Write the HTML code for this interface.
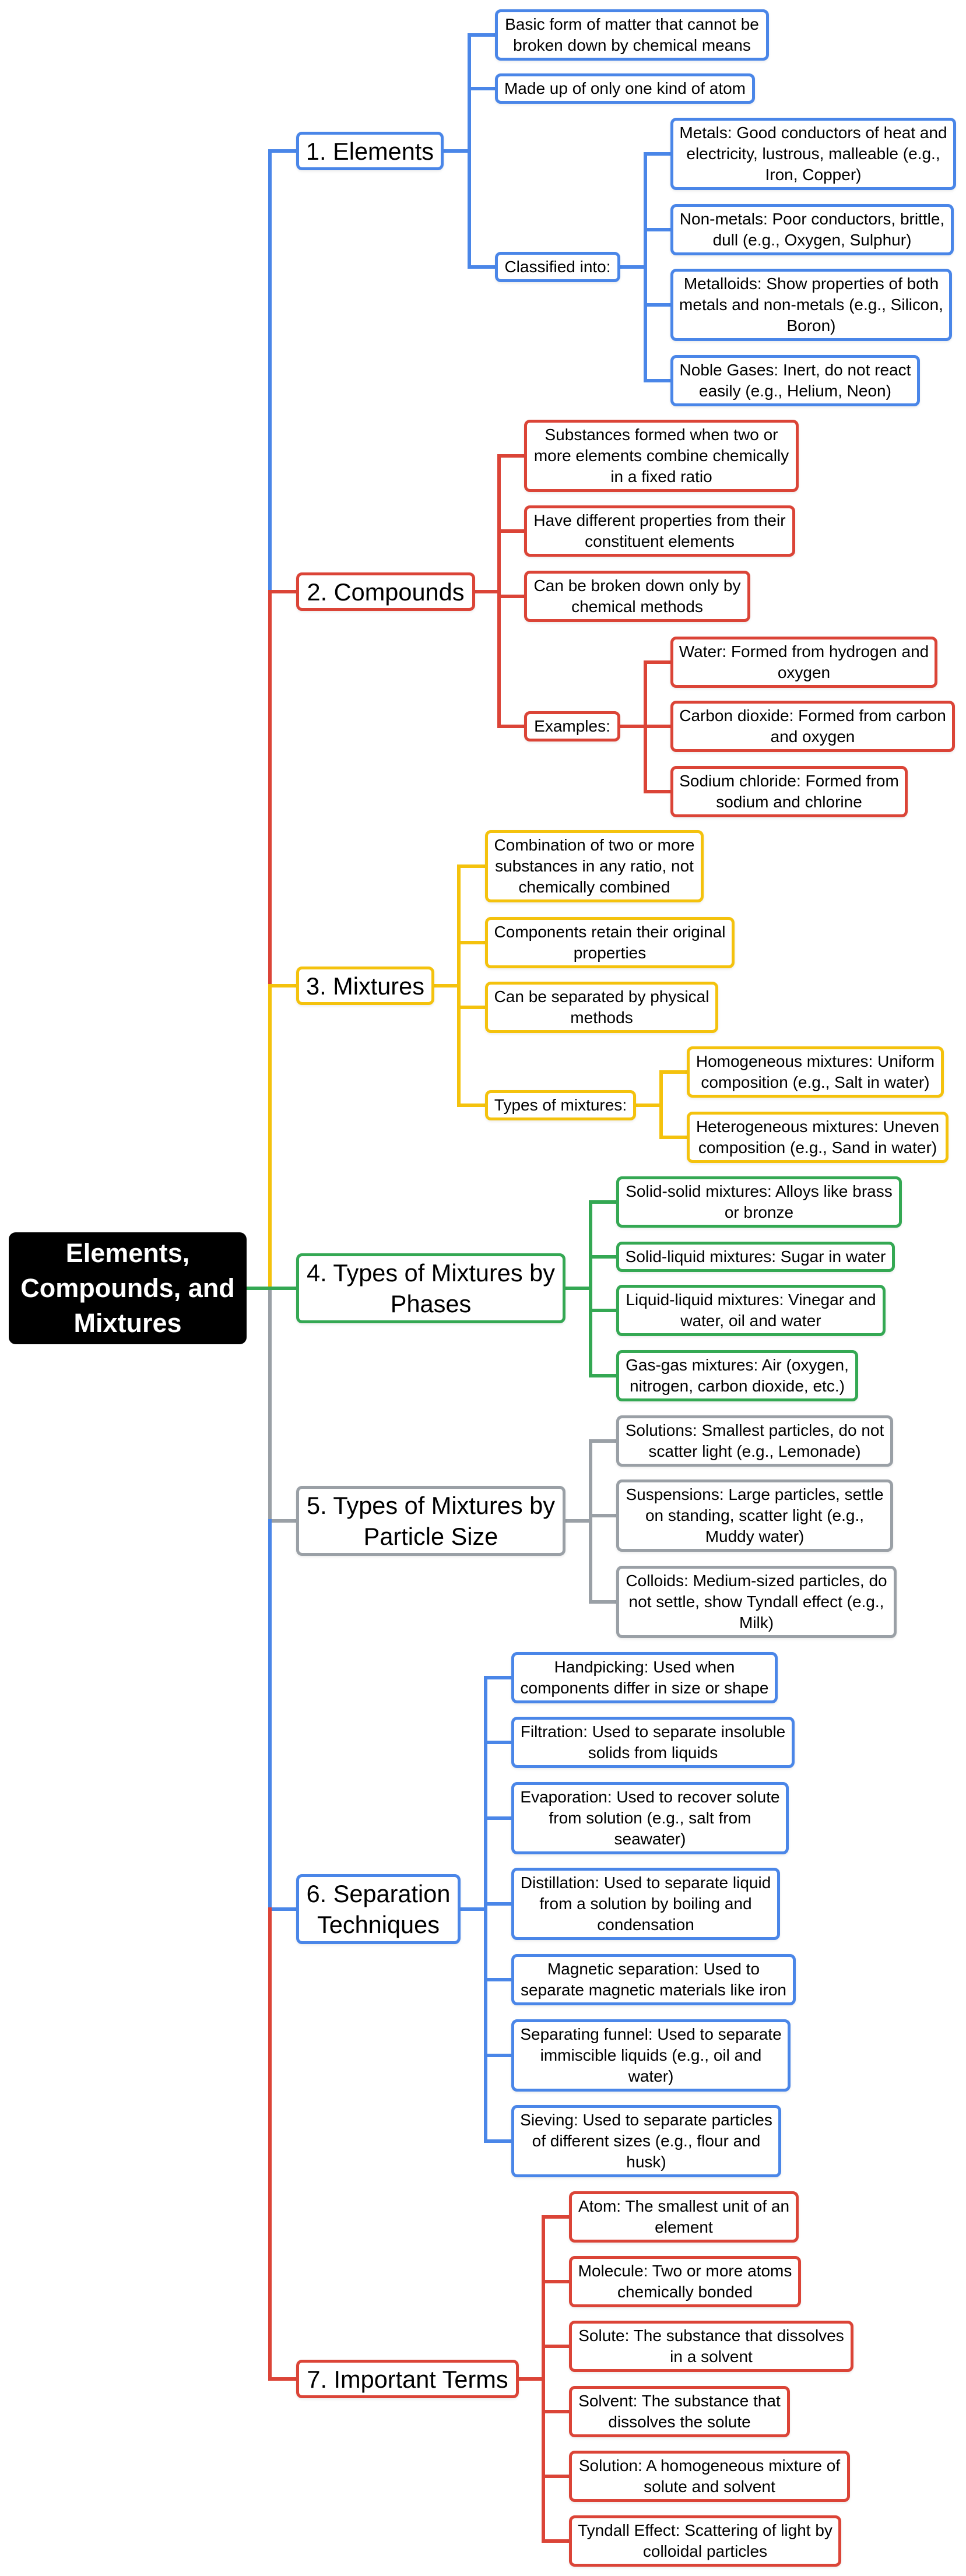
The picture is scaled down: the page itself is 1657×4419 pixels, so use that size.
<!DOCTYPE html>
<html>
<head>
<meta charset="utf-8">
<style>
  html, body { margin:0; padding:0; background:#fff; }
  #wrap { position:relative; width:1657px; height:4419px; overflow:hidden; background:#fff;
          font-family:"Liberation Sans", Arial, sans-serif; color:#000; }
  svg { position:absolute; left:0; top:0; }
  .b { position:absolute; box-sizing:border-box; background:#fff; border:5px solid; border-radius:10px;
       display:flex; align-items:center; justify-content:center; text-align:center; white-space:nowrap;
       font-size:28px; line-height:36px; box-shadow:0 2px 4px rgba(0,0,0,0.08); }
  .l1 { font-size:41.5px; line-height:53px; }
  .root { position:absolute; box-sizing:border-box; background:#000; color:#fff; border-radius:12px;
          display:flex; align-items:center; justify-content:center; text-align:center; white-space:nowrap;
          font-weight:bold; font-size:45px; line-height:60px; }
  .blue { border-color:#4a86e8; }
  .red { border-color:#db4437; }
  .yel { border-color:#f4c20d; }
  .grn { border-color:#34a853; }
  .gry { border-color:#9aa0a6; }
</style>
</head>
<body>
<div id="wrap">
<svg width="1657" height="4419" viewBox="0 0 1657 4419" fill="none" stroke-width="6" stroke-linecap="square">
  <!-- main trunk -->
  <path d="M463 259 V1015 M463 259 H508" stroke="#4a86e8"/>
  <path d="M463 1015 V1691 M463 1015 H508" stroke="#db4437"/>
  <path d="M463 1691 V2210 M463 1691 H508" stroke="#f4c20d"/>
  <path d="M463 2210 V2609 M463 2609 H508" stroke="#9aa0a6"/>
  <path d="M463 2609 V3275 M463 3275 H508" stroke="#4a86e8"/>
  <path d="M463 3275 V4081 M463 4081 H508" stroke="#db4437"/>
  <path d="M423 2210 H508" stroke="#34a853"/>

  <!-- Elements -->
  <g stroke="#4a86e8">
    <path d="M761 259 H805 M805 60 V458 M805 60 H849 M805 152 H849 M805 458 H849"/>
    <path d="M1064 458 H1107 M1107 264 V653 M1107 264 H1150 M1107 394 H1150 M1107 523 H1150 M1107 653 H1150"/>
  </g>
  <!-- Compounds -->
  <g stroke="#db4437">
    <path d="M815 1015 H856 M856 782 V1246 M856 782 H899 M856 911 H899 M856 1023 H899 M856 1246 H899"/>
    <path d="M1064 1246 H1107 M1107 1136 V1358 M1107 1136 H1150 M1107 1246 H1150 M1107 1358 H1150"/>
  </g>
  <!-- Mixtures -->
  <g stroke="#f4c20d">
    <path d="M745 1691 H787 M787 1486 V1896 M787 1486 H832 M787 1617 H832 M787 1728 H832 M787 1896 H832"/>
    <path d="M1091 1896 H1134 M1134 1839 V1951 M1134 1839 H1178 M1134 1951 H1178"/>
  </g>
  <!-- Phases -->
  <g stroke="#34a853">
    <path d="M970 2210 H1013 M1013 2062 V2360 M1013 2062 H1057 M1013 2156 H1057 M1013 2248 H1057 M1013 2360 H1057"/>
  </g>
  <!-- Particle size -->
  <g stroke="#9aa0a6">
    <path d="M970 2609 H1013 M1013 2472 V2748 M1013 2472 H1057 M1013 2600 H1057 M1013 2748 H1057"/>
  </g>
  <!-- Separation -->
  <g stroke="#4a86e8">
    <path d="M790 3275 H833 M833 2878 V3673 M833 2878 H877 M833 2989 H877 M833 3119 H877 M833 3266 H877 M833 3396 H877 M833 3526 H877 M833 3673 H877"/>
  </g>
  <!-- Important terms -->
  <g stroke="#db4437">
    <path d="M890 4081 H932 M932 3803 V4359 M932 3803 H976 M932 3914 H976 M932 4025 H976 M932 4137 H976 M932 4248 H976 M932 4359 H976"/>
  </g>
</svg>

<!-- Root -->
<div class="root" style="left:15px;top:2114px;width:408px;height:192px;">Elements,<br>Compounds, and<br>Mixtures</div>

<!-- Level 1 -->
<div class="b l1 blue" style="left:508px;top:226px;width:253px;height:66px;">1. Elements</div>
<div class="b l1 red" style="left:508px;top:982px;width:307px;height:66px;">2. Compounds</div>
<div class="b l1 yel" style="left:508px;top:1658px;width:237px;height:66px;">3. Mixtures</div>
<div class="b l1 grn" style="left:508px;top:2150px;width:462px;height:120px;">4. Types of Mixtures by<br>Phases</div>
<div class="b l1 gry" style="left:508px;top:2549px;width:462px;height:120px;">5. Types of Mixtures by<br>Particle Size</div>
<div class="b l1 blue" style="left:508px;top:3215px;width:282px;height:120px;">6. Separation<br>Techniques</div>
<div class="b l1 red" style="left:508px;top:4048px;width:382px;height:66px;">7. Important Terms</div>

<!-- Elements children -->
<div class="b blue" style="left:849px;top:16px;width:470px;height:88px;">Basic form of matter that cannot be<br>broken down by chemical means</div>
<div class="b blue" style="left:849px;top:126px;width:446px;height:52px;">Made up of only one kind of atom</div>
<div class="b blue" style="left:849px;top:432px;width:215px;height:52px;">Classified into:</div>
<div class="b blue" style="left:1150px;top:202px;width:490px;height:124px;">Metals: Good conductors of heat and<br>electricity, lustrous, malleable (e.g.,<br>Iron, Copper)</div>
<div class="b blue" style="left:1150px;top:350px;width:486px;height:88px;">Non-metals: Poor conductors, brittle,<br>dull (e.g., Oxygen, Sulphur)</div>
<div class="b blue" style="left:1150px;top:461px;width:483px;height:124px;">Metalloids: Show properties of both<br>metals and non-metals (e.g., Silicon,<br>Boron)</div>
<div class="b blue" style="left:1150px;top:609px;width:428px;height:88px;">Noble Gases: Inert, do not react<br>easily (e.g., Helium, Neon)</div>

<!-- Compounds children -->
<div class="b red" style="left:899px;top:720px;width:471px;height:124px;">Substances formed when two or<br>more elements combine chemically<br>in a fixed ratio</div>
<div class="b red" style="left:899px;top:867px;width:465px;height:88px;">Have different properties from their<br>constituent elements</div>
<div class="b red" style="left:899px;top:979px;width:388px;height:88px;">Can be broken down only by<br>chemical methods</div>
<div class="b red" style="left:899px;top:1220px;width:165px;height:52px;">Examples:</div>
<div class="b red" style="left:1150px;top:1092px;width:458px;height:88px;">Water: Formed from hydrogen and<br>oxygen</div>
<div class="b red" style="left:1150px;top:1202px;width:488px;height:88px;">Carbon dioxide: Formed from carbon<br>and oxygen</div>
<div class="b red" style="left:1150px;top:1314px;width:407px;height:88px;">Sodium chloride: Formed from<br>sodium and chlorine</div>

<!-- Mixtures children -->
<div class="b yel" style="left:832px;top:1424px;width:375px;height:124px;">Combination of two or more<br>substances in any ratio, not<br>chemically combined</div>
<div class="b yel" style="left:832px;top:1573px;width:428px;height:88px;">Components retain their original<br>properties</div>
<div class="b yel" style="left:832px;top:1684px;width:400px;height:88px;">Can be separated by physical<br>methods</div>
<div class="b yel" style="left:832px;top:1870px;width:259px;height:52px;">Types of mixtures:</div>
<div class="b yel" style="left:1178px;top:1795px;width:441px;height:88px;">Homogeneous mixtures: Uniform<br>composition (e.g., Salt in water)</div>
<div class="b yel" style="left:1178px;top:1907px;width:449px;height:88px;">Heterogeneous mixtures: Uneven<br>composition (e.g., Sand in water)</div>

<!-- Phases children -->
<div class="b grn" style="left:1057px;top:2018px;width:490px;height:88px;">Solid-solid mixtures: Alloys like brass<br>or bronze</div>
<div class="b grn" style="left:1057px;top:2130px;width:478px;height:52px;">Solid-liquid mixtures: Sugar in water</div>
<div class="b grn" style="left:1057px;top:2204px;width:462px;height:88px;">Liquid-liquid mixtures: Vinegar and<br>water, oil and water</div>
<div class="b grn" style="left:1057px;top:2316px;width:415px;height:88px;">Gas-gas mixtures: Air (oxygen,<br>nitrogen, carbon dioxide, etc.)</div>

<!-- Particle size children -->
<div class="b gry" style="left:1057px;top:2428px;width:475px;height:88px;">Solutions: Smallest particles, do not<br>scatter light (e.g., Lemonade)</div>
<div class="b gry" style="left:1057px;top:2538px;width:475px;height:124px;">Suspensions: Large particles, settle<br>on standing, scatter light (e.g.,<br>Muddy water)</div>
<div class="b gry" style="left:1057px;top:2686px;width:481px;height:124px;">Colloids: Medium-sized particles, do<br>not settle, show Tyndall effect (e.g.,<br>Milk)</div>

<!-- Separation children -->
<div class="b blue" style="left:877px;top:2834px;width:457px;height:88px;">Handpicking: Used when<br>components differ in size or shape</div>
<div class="b blue" style="left:877px;top:2945px;width:486px;height:88px;">Filtration: Used to separate insoluble<br>solids from liquids</div>
<div class="b blue" style="left:877px;top:3057px;width:476px;height:124px;">Evaporation: Used to recover solute<br>from solution (e.g., salt from<br>seawater)</div>
<div class="b blue" style="left:877px;top:3204px;width:461px;height:124px;">Distillation: Used to separate liquid<br>from a solution by boiling and<br>condensation</div>
<div class="b blue" style="left:877px;top:3352px;width:488px;height:88px;">Magnetic separation: Used to<br>separate magnetic materials like iron</div>
<div class="b blue" style="left:877px;top:3464px;width:479px;height:124px;">Separating funnel: Used to separate<br>immiscible liquids (e.g., oil and<br>water)</div>
<div class="b blue" style="left:877px;top:3611px;width:463px;height:124px;">Sieving: Used to separate particles<br>of different sizes (e.g., flour and<br>husk)</div>

<!-- Important terms children -->
<div class="b red" style="left:976px;top:3759px;width:394px;height:88px;">Atom: The smallest unit of an<br>element</div>
<div class="b red" style="left:976px;top:3870px;width:398px;height:88px;">Molecule: Two or more atoms<br>chemically bonded</div>
<div class="b red" style="left:976px;top:3981px;width:488px;height:88px;">Solute: The substance that dissolves<br>in a solvent</div>
<div class="b red" style="left:976px;top:4093px;width:379px;height:88px;">Solvent: The substance that<br>dissolves the solute</div>
<div class="b red" style="left:976px;top:4204px;width:482px;height:88px;">Solution: A homogeneous mixture of<br>solute and solvent</div>
<div class="b red" style="left:976px;top:4315px;width:467px;height:88px;">Tyndall Effect: Scattering of light by<br>colloidal particles</div>
</div>
</body>
</html>
